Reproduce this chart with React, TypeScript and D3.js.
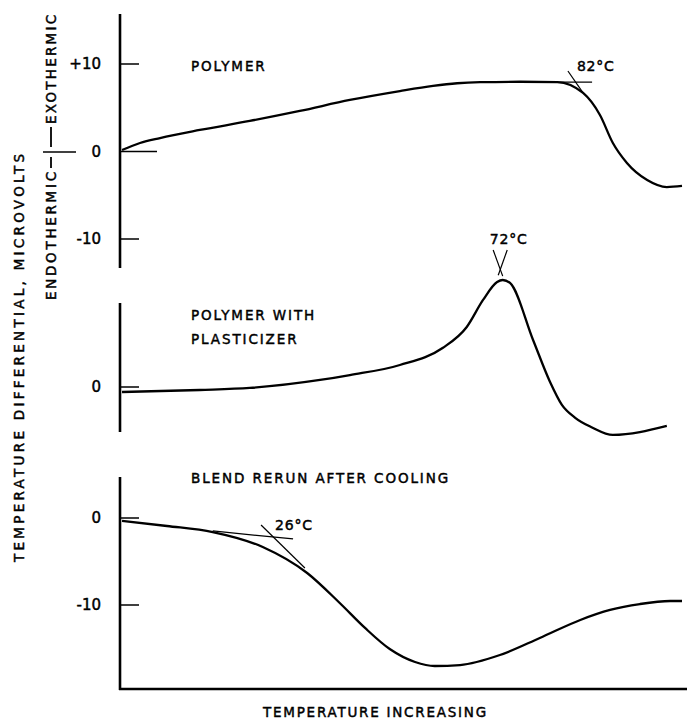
import React from 'react';
import * as d3 from 'd3';

const WIDTH = 687;
const HEIGHT = 721;
const FONT = '"DejaVu Sans", "Liberation Sans", sans-serif';

// temperature runs left to right in arbitrary units (0 = start of run, 100 = end)
const polymerT = [0.36, 3.56, 7.12, 14.2, 23.1, 32.0, 40.9, 49.8, 55.7, 60.0, 64.1, 71.2, 77.8, 82.4, 85.4, 87.7, 90.2, 93.8, 97.3, 100];
const polymerDT = [0.17, 0.97, 1.54, 2.46, 3.49, 4.63, 5.89, 6.91, 7.5, 7.8, 7.92, 7.97, 7.94, 6.69, 4.17, 0.97, -1.31, -3.26, -4.06, -3.94];

const plastT = [0.36, 14.2, 23.1, 35.6, 40.9, 49.8, 57.4, 61.7, 64.6, 67.1, 68.1, 69.4, 73.5, 76.5, 78.6, 81.0, 84.0, 87.7, 97.3];
const plastDT = [-0.57, -0.34, -0.11, 0.8, 1.36, 2.5, 4.43, 6.82, 9.89, 11.93, 12.16, 11.82, 5.34, 0.6, -2.0, -3.5, -4.6, -5.45, -4.43];

const blendT = [0.36, 8.36, 16.5, 25.4, 33.3, 39.1, 43.6, 48.0, 52.5, 56.0, 60.5, 67.6, 74.7, 81.9, 87.2, 92.5, 97.9, 100];
const blendDT = [-0.34, -0.92, -1.61, -3.33, -6.32, -9.77, -12.64, -15.06, -16.55, -17.01, -16.9, -15.75, -13.79, -11.72, -10.57, -9.89, -9.54, -9.54];

const polymerTicks = [10, 0, -10];
const polymerTickLabels = ['+10', '0', '-10'];
const plastTicks = [0];
const plastTickLabels = ['0'];
const blendTicks = [0, -10];
const blendTickLabels = ['0', '-10'];

// tangent construction lines: [t1, v1, t2, v2]
const polymerTangents = [[77.8, 7.94, 84.0, 7.94], [79.7, 9.2, 82.4, 6.69]];
const plastTangents = [[66.4, 15.57, 68.1, 12.6], [68.9, 15.57, 67.3, 12.7]];
const blendTangents = [[16.5, -1.49, 30.8, -2.41], [25.1, -0.8, 32.9, -5.75]];

const polymerOnset = { text: '82°C', t: 81.3, v: 9.2 };
const plastOnset = { text: '72°C', t: 65.8, v: 16.25 };
const blendOnset = { text: '26°C', t: 27.6, v: -1.38 };

const x = d3.scaleLinear().domain([0, 100]).range([120, 682]);
const AXIS_X = 120;

const panels = [
  {
    key: 'polymer',
    t: polymerT, v: polymerDT,
    ticks: polymerTicks, tickLabels: polymerTickLabels,
    tangents: polymerTangents, onset: polymerOnset,
    y: d3.scaleLinear().domain([-10, 10]).range([239, 64]),
    axisTop: 14, axisBottom: 268,
    titles: ['POLYMER'], titleY: 71,
  },
  {
    key: 'plast',
    t: plastT, v: plastDT,
    ticks: plastTicks, tickLabels: plastTickLabels,
    tangents: plastTangents, onset: plastOnset,
    y: d3.scaleLinear().domain([0, 10]).range([387, 299]),
    axisTop: 303, axisBottom: 432,
    titles: ['POLYMER WITH', 'PLASTICIZER'], titleY: 320,
  },
  {
    key: 'blend',
    t: blendT, v: blendDT,
    ticks: blendTicks, tickLabels: blendTickLabels,
    tangents: blendTangents, onset: blendOnset,
    y: d3.scaleLinear().domain([-10, 0]).range([605, 518]),
    axisTop: 477, axisBottom: 690,
    titles: ['BLEND RERUN AFTER COOLING'], titleY: 483,
  },
];

// lettering-guide look: regular face, slightly thickened
const ink = { fill: '#000', stroke: '#000', strokeWidth: 0.45 };
const textStyle = { fontFamily: FONT, fontSize: 13.5, letterSpacing: 1.9, ...ink };

const App = () => {
  return (
    <svg width={WIDTH} height={HEIGHT} style={{ position: 'absolute', left: 0, top: 0, background: '#fff' }}>
      {panels.map((p) => {
        const line = d3
          .line<number>()
          .x((_, i) => x(p.t[i]))
          .y((d) => p.y(d))
          .curve(d3.curveMonotoneX);
        return (
          <g key={p.key}>
            <line x1={AXIS_X} x2={AXIS_X} y1={p.axisTop} y2={p.axisBottom} stroke="#000" strokeWidth={2.6} />
            {p.ticks.map((tk, i) => {
              const long = p.key === 'polymer' && tk === 0;
              return (
                <g key={tk}>
                  <line x1={AXIS_X} x2={AXIS_X + (long ? 37 : 19)} y1={p.y(tk)} y2={p.y(tk)} stroke="#000" strokeWidth={1.5} />
                  <text x={101} y={p.y(tk)} dy="0.36em" textAnchor="end" fontFamily={FONT} fontSize={15} {...ink}>
                    {p.tickLabels[i]}
                  </text>
                </g>
              );
            })}
            {p.titles.map((t, i) => (
              <text key={t} x={191} y={p.titleY + i * 24} {...textStyle}>
                {t}
              </text>
            ))}
            <path d={line(p.v) ?? ''} fill="none" stroke="#000" strokeWidth={2.3} strokeLinejoin="round" />
            {p.tangents.map((s, i) => (
              <line key={i} x1={x(s[0])} y1={p.y(s[1])} x2={x(s[2])} y2={p.y(s[3])} stroke="#000" strokeWidth={1.2} />
            ))}
            <text x={x(p.onset.t)} y={p.y(p.onset.v)} fontFamily={FONT} fontSize={14} letterSpacing={0.8} {...ink}>
              {p.onset.text}
            </text>
          </g>
        );
      })}

      {/* temperature axis */}
      <line x1={AXIS_X - 1} x2={WIDTH} y1={689} y2={689} stroke="#000" strokeWidth={2.4} />
      <text x={263} y={717} textLength={225} lengthAdjust="spacing" {...textStyle}>
        TEMPERATURE INCREASING
      </text>

      {/* y axis titles */}
      <text transform="translate(24,562) rotate(-90)" textLength={410} lengthAdjust="spacing" {...textStyle}>
        TEMPERATURE DIFFERENTIAL, MICROVOLTS
      </text>
      <text transform="translate(56,300) rotate(-90)" textLength={130} lengthAdjust="spacing" {...textStyle}>
        ENDOTHERMIC
      </text>
      <line x1={51} x2={51} y1={157} y2={168} stroke="#000" strokeWidth={1.8} />
      <line x1={43} x2={76} y1={152} y2={152} stroke="#000" strokeWidth={1.5} />
      <line x1={51} x2={51} y1={127} y2={147} stroke="#000" strokeWidth={1.8} />
      <text transform="translate(56,124) rotate(-90)" textLength={111} lengthAdjust="spacing" {...textStyle}>
        EXOTHERMIC
      </text>
    </svg>
  );
};

export default App;
